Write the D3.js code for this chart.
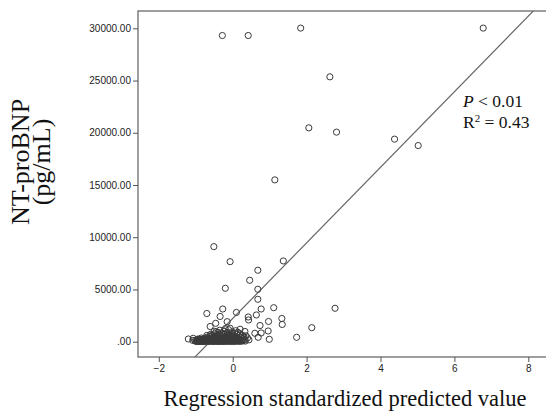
<!DOCTYPE html>
<html><head><meta charset="utf-8">
<script src="https://cdn.jsdelivr.net/npm/d3@7"></script>
<style>body{margin:0;background:#fff}svg{display:block}</style>
</head><body>
<script>
// Regression standardized predicted value (x) and NT-proBNP pg/mL (y)
const outlierX = [-0.28,0.42,1.84,6.78,2.63,2.06,2.81,4.38,5.02,1.14,-0.51,-0.07,1.37,0.68,0.46,-0.20,0.68,0.68,-0.27,0.77,1.11,2.77,-0.70,0.10,0.64,-0.34,0.42,0.43,1.33,1.34,0.97,0.74,0.96,2.14,1.73,0.99,0.69,0.60,0.77,0.33,0.20,-0.61,-0.46,-0.15,-0.07,-1.20,-1.07];
const outlierY = [29310,29310,30020,30020,25355,20470,20060,19390,18775,15490,9100,7660,7730,6840,5880,5115,5020,4060,3130,3130,3255,3200,2700,2800,2560,2415,2365,2080,2220,1650,1935,1550,1025,1340,420,230,420,805,835,980,1190,1455,1760,1915,1285,260,325];
const clusterX = [-1.08,-1.02,-0.97,-0.95,-0.93,-0.90,-0.88,-0.86,-0.84,-0.83,-0.81,-0.80,-0.78,-0.77,-0.75,-0.74,-0.72,-0.71,-0.70,-0.69,-0.67,-0.66,-0.65,-0.64,-0.62,-0.61,-0.60,-0.59,-0.58,-0.57,-0.56,-0.55,-0.54,-0.53,-0.52,-0.51,-0.50,-0.49,-0.48,-0.47,-0.46,-0.45,-0.44,-0.43,-0.42,-0.41,-0.40,-0.39,-0.38,-0.37,-0.36,-0.35,-0.34,-0.33,-0.32,-0.31,-0.30,-0.29,-0.28,-0.27,-0.26,-0.25,-0.24,-0.23,-0.22,-0.21,-0.20,-0.19,-0.18,-0.17,-0.16,-0.15,-0.14,-0.13,-0.12,-0.11,-0.10,-0.09,-0.08,-0.07,-0.06,-0.05,-0.04,-0.03,-0.02,-0.01,0.00,0.01,0.02,0.03,0.04,0.05,0.06,0.07,0.08,0.09,0.10,0.11,0.12,0.13,0.14,0.15,0.16,0.18,0.20,0.22,0.24,0.26,0.28,0.30,0.33,0.36,0.40,0.44,-0.95,-0.85,-0.70,-0.60,-0.45,-0.35,-0.20,-0.50,
  -0.99,-0.96,-0.92,-0.89,-0.87,-0.82,-0.79,-0.76,-0.73,-0.68,-0.63,-0.58,-0.55,-0.52,-0.48,-0.44,-0.40,-0.37,-0.33,-0.29,-0.26,-0.22,-0.18,-0.14,-0.10,-0.06,-0.02,0.02,0.05,0.09,0.13,0.17,0.21,0.25,0.29,0.34,-0.91,-0.78,-0.66,-0.54,-0.42,-0.31,-0.16,-0.04,0.07,0.19];
const clusterY = [120,80,60,150,40,100,200,60,30,140,260,90,50,180,320,110,60,230,420,150,80,300,40,200,520,120,350,70,250,160,620,90,400,210,50,300,130,750,480,240,80,360,170,600,60,280,900,140,450,220,700,100,330,540,180,60,820,260,400,120,650,300,1000,80,480,200,740,350,140,560,60,880,280,420,160,1150,620,240,380,90,760,500,200,300,940,120,440,660,260,100,560,820,340,180,1050,460,240,700,120,380,900,300,560,200,760,420,140,620,300,480,220,560,360,180,250,350,600,700,950,1100,1250,1000,
  30,70,20,50,110,40,20,130,30,100,20,150,40,20,110,30,60,20,90,40,20,60,30,90,40,20,70,40,20,80,40,60,30,70,100,60,240,170,190,260,200,160,280,190,150,230];
const xTicks = [-2,0,2,4,6,8];
const yTicks = [0,5000,10000,15000,20000,25000,30000];
const regIntercept = 2225, regSlope = 3618;
const annot1 = ["P", " < 0.01"];
const annot2 = ["R", "2", " = 0.43"];

const W = 546, H = 412;
const svg = d3.select("body").append("svg").attr("width", W).attr("height", H);
const L = 138, T = 11, B = 357, R = 560;
const x = d3.scaleLinear().domain([-2.563, 8.858]).range([L, R]);
const y = d3.scaleLinear().domain([-1465, 31657]).range([B, T]);

svg.append("clipPath").attr("id","clip").append("rect").attr("x",L).attr("y",T).attr("width",R-L).attr("height",B-T);

// frame
svg.append("rect").attr("x",L).attr("y",T).attr("width",R-L).attr("height",B-T)
  .attr("fill","none").attr("stroke","#6a6a6a").attr("stroke-width",1.3);

// axes
const fmt = d => d === 0 ? ".00" : d3.format(".2f")(d);
const ya = svg.append("g").attr("transform",`translate(${L},0)`)
  .call(d3.axisLeft(y).tickValues(yTicks).tickFormat(fmt).tickSize(5).tickPadding(2));
ya.select(".domain").remove();
const xa = svg.append("g").attr("transform",`translate(0,${B})`)
  .call(d3.axisBottom(x).tickValues(xTicks).tickFormat(d3.format("d")).tickSize(5).tickPadding(3));
xa.select(".domain").remove();
svg.selectAll(".tick line").attr("stroke","#555");
svg.selectAll(".tick text").attr("font-family","Liberation Sans, Arial, sans-serif").attr("font-size",10).attr("fill","#222");

// regression line
const lx0 = -1.3, lx1 = 8.5;
svg.append("line").attr("clip-path","url(#clip)")
  .attr("x1",x(lx0)).attr("y1",y(regIntercept+regSlope*lx0))
  .attr("x2",x(lx1)).attr("y2",y(regIntercept+regSlope*lx1))
  .attr("stroke","#666").attr("stroke-width",1.2);

// points
const pts = outlierX.map((d,i)=>[d,outlierY[i]]).concat(clusterX.map((d,i)=>[d,clusterY[i]]));
svg.append("g").selectAll("circle").data(pts).join("circle")
  .attr("cx",d=>x(d[0])).attr("cy",d=>y(d[1])).attr("r",3.1)
  .attr("fill","none").attr("stroke","#3a3a3a").attr("stroke-width",1);

// annotation
const serif = "Liberation Serif, Times New Roman, serif";
const t1 = svg.append("text").attr("x",463).attr("y",107).attr("font-family",serif).attr("font-size",17.5).attr("fill","#111");
t1.append("tspan").attr("font-style","italic").text(annot1[0]);
t1.append("tspan").text(annot1[1]);
const t2 = svg.append("text").attr("x",463).attr("y",128).attr("font-family",serif).attr("font-size",17.5).attr("fill","#111");
t2.append("tspan").text(annot2[0]);
t2.append("tspan").attr("font-size",11).attr("dy",-6).text(annot2[1]);
t2.append("tspan").attr("dy",6).text(annot2[2]);

// axis titles
svg.append("text").attr("x",(163+527)/2).attr("y",406).attr("text-anchor","middle")
  .attr("font-family",serif).attr("font-size",22.5).attr("fill","#111").text("Regression standardized predicted value");
const yt = svg.append("g").attr("transform","translate(29,162) rotate(-90)");
yt.append("text").attr("x",0).attr("y",0).attr("text-anchor","middle").attr("font-family",serif).attr("font-size",26).attr("fill","#111").text("NT-proBNP");
yt.append("text").attr("x",0).attr("y",21).attr("text-anchor","middle").attr("font-family",serif).attr("font-size",26).attr("fill","#111").text("(pg/mL)");
</script>
</body></html>
